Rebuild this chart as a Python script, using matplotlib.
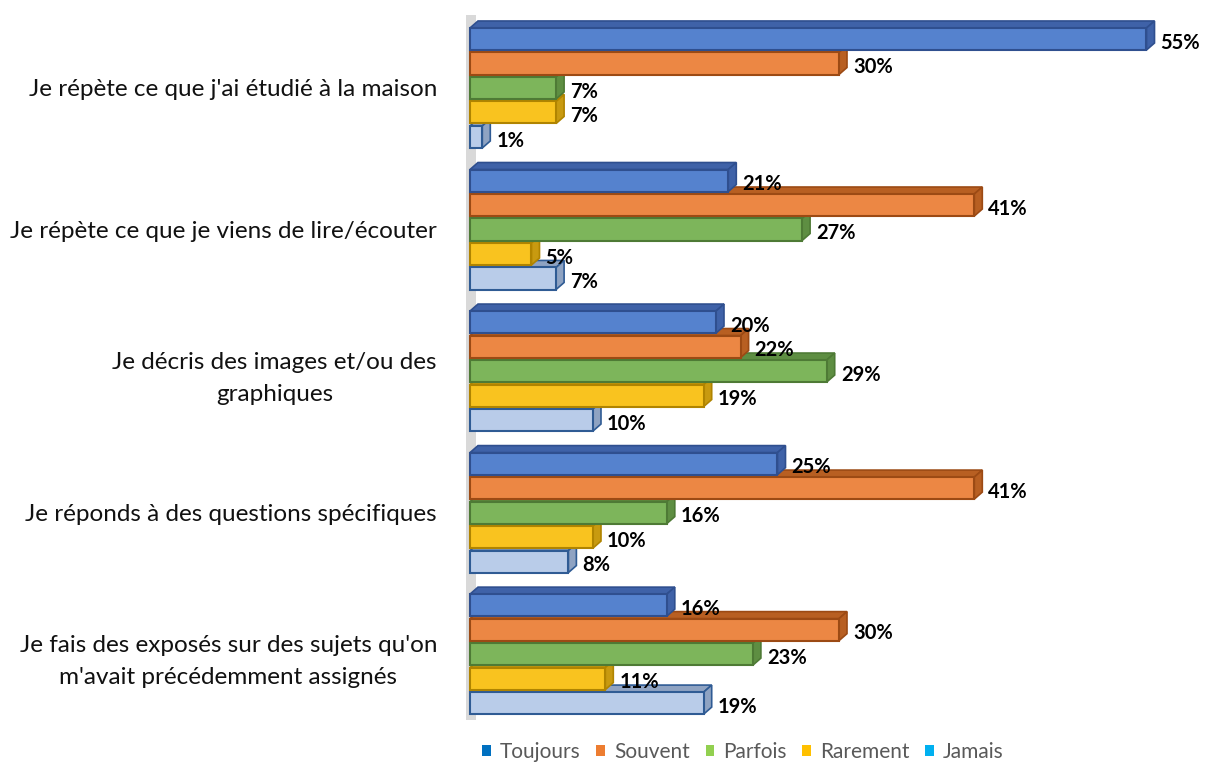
import numpy as np
import matplotlib
matplotlib.use("Agg")
import matplotlib.pyplot as plt
from matplotlib.patches import Polygon, Rectangle, Patch

plt.rcParams['font.family'] = ['Lato', 'DejaVu Sans']

categories = [
    "Je répète ce que j'ai étudié à la maison",
    "Je répète ce que je viens de lire/écouter",
    "Je décris des images et/ou des\ngraphiques",
    "Je réponds à des questions spécifiques",
    "Je fais des exposés sur des sujets qu'on\nm'avait précédemment assignés",
]
series = ["Toujours", "Souvent", "Parfois", "Rarement", "Jamais"]
toujours = [55, 21, 20, 25, 16]
souvent = [30, 41, 22, 41, 30]
parfois = [7, 27, 29, 16, 23]
rarement = [7, 5, 19, 10, 11]
jamais = [1, 7, 10, 8, 19]
values = [toujours, souvent, parfois, rarement, jamais]

face = ["#5582CE", "#EC8744", "#7DB55B", "#F9C31F", "#B9CCE9"]
edge = ["#2F4F8F", "#9C4A14", "#4E7A35", "#B08400", "#2F5B94"]
side = ["#3F62A8", "#B85F22", "#5E8E42", "#C89A10", "#8FA3C2"]
legend_col = ["#0070C0", "#ED7D31", "#92D050", "#FFC000", "#00B0F0"]

fig = plt.figure(figsize=(12.1, 7.65), dpi=100)
ax = fig.add_axes([462 / 1210, 1 - 720 / 765, (1208 - 462) / 1210, 705 / 765])

group_step = 5.78
bar_h = 0.9
n = len(series)
centers = np.arange(len(categories)) * group_step

xmin, xmax = -0.65, 60.0
ymin, ymax = -2.98, centers[-1] + 2.69
ax.set_xlim(xmin, xmax)
ax.set_ylim(ymax, ymin)

# depth of the 3D effect in data units (about 8 px right, 7 px up)
px_x = (1208 - 462) / (xmax - xmin)
px_y = 705 / (ymax - ymin)
dx = 8 / px_x
dy = -7 / px_y

# back wall
ax.add_patch(Rectangle((xmin + 0.3, ymin), dx + 0.2, ymax - ymin,
                       facecolor="#D9D9D9", edgecolor="none", zorder=0))

# draw bottom series first so upper bars cover the top faces
for j in reversed(range(n)):
    ys = centers + (j - 2) * 1.0
    z = 2 + (n - j) * 0.1
    for i, v in enumerate(values[j]):
        y = ys[i]
        top = y - bar_h / 2
        bot = y + bar_h / 2
        ax.add_patch(Polygon([[0, top], [v, top], [v + dx, top + dy], [dx, top + dy]],
                             closed=True, facecolor=side[j], edgecolor=edge[j],
                             linewidth=1.2, zorder=z))
        ax.add_patch(Polygon([[v, top], [v + dx, top + dy], [v + dx, bot + dy], [v, bot]],
                             closed=True, facecolor=side[j], edgecolor=edge[j],
                             linewidth=1.2, zorder=z))
    ax.barh(ys, values[j], height=bar_h, color=face[j], edgecolor=edge[j],
            linewidth=1.5, zorder=z + 0.05)

for j in range(n):
    ys = centers + (j - 2) * 1.0
    for i, v in enumerate(values[j]):
        ax.text(v + dx + 0.5, ys[i] + 0.15, f"{v}%", ha="left", va="center",
                fontsize=14.5, fontweight="bold", color="black", zorder=10)

ax.set_yticks(centers)
ax.set_yticklabels(categories, fontsize=17.5, color="#111111", multialignment="center",
                   linespacing=1.65)
ax.tick_params(axis="y", length=0, pad=18)
ax.set_xticks([])
for s in ax.spines.values():
    s.set_visible(False)

handles = [Patch(facecolor=c, edgecolor="none") for c in legend_col]
fig.legend(handles, series, loc="center", bbox_to_anchor=(743 / 1210, 1 - 752 / 765),
           ncol=5, frameon=False, fontsize=15, labelcolor="#595959",
           handlelength=0.4, handleheight=0.4, handletextpad=0.45, columnspacing=0.75)

fig.savefig("out.png", dpi=100)
